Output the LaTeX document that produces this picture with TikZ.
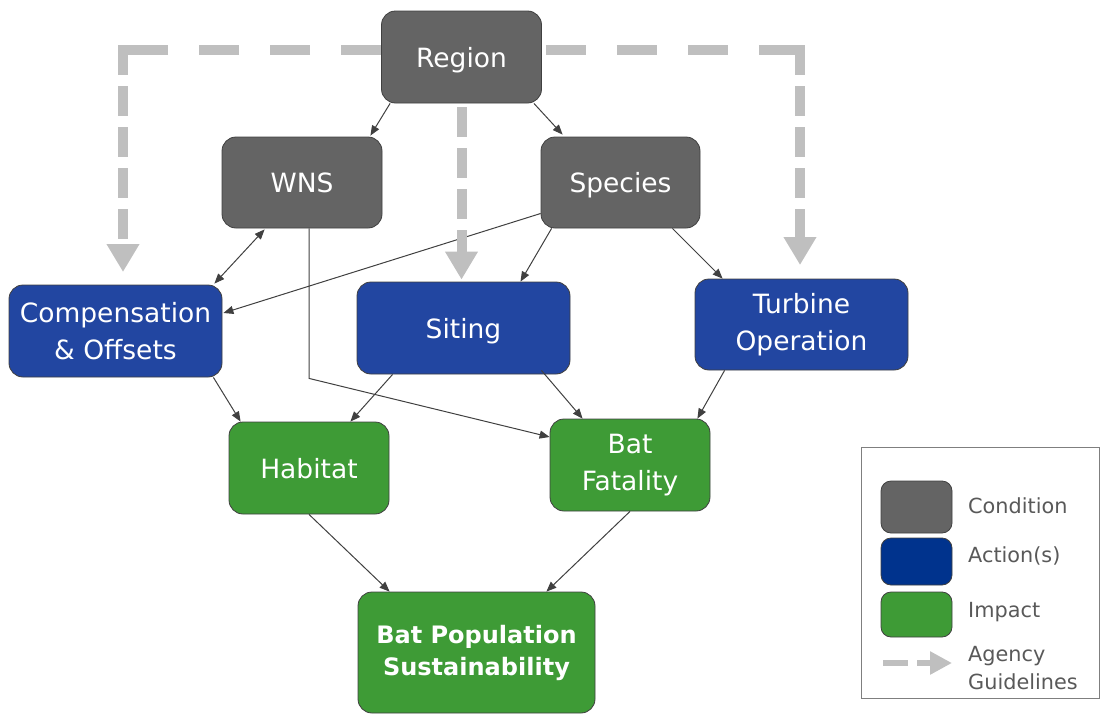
\documentclass[tikz,border=0pt]{standalone}
\usepackage{fontspec}
\setmainfont{DejaVu Sans}
\usetikzlibrary{arrows.meta,calc}
\definecolor{condc}{HTML}{646464}
\definecolor{actc}{HTML}{2246A1}
\definecolor{impc}{HTML}{3E9B36}
\definecolor{legact}{HTML}{00338D}
\definecolor{guidec}{HTML}{BFBFBF}
\definecolor{linec}{HTML}{404040}
\definecolor{legtext}{HTML}{595959}
\definecolor{legbord}{HTML}{7F7F7F}
\begin{document}
\begin{tikzpicture}[x=1pt,y=-1pt,
 box/.style={draw=linec, line width=0.8pt, rounded corners=14pt, text=white, align=center, inner sep=0pt, font=\fontsize{26.5}{37}\selectfont},
 one/.style={text depth=0pt},
 cond/.style={box, fill=condc},
 act/.style={box, fill=actc},
 imp/.style={box, fill=impc},
 conn/.style={draw=linec, line width=1pt, -{Triangle[length=10pt,width=8pt]}},
 guideh/.style={draw=guidec, line width=10pt, dash pattern=on 40pt off 31pt},
 guidev/.style={draw=guidec, line width=10pt, dash pattern=on 30pt off 11pt, -{Triangle[length=28pt,width=31pt]}},
 legbox/.style={draw=linec, line width=0.8pt, rounded corners=10pt, minimum width=71pt, inner sep=0pt},
 legtxt/.style={anchor=west, text=legtext, inner sep=0pt, align=left, font=\fontsize{20.8}{28}\selectfont},
]
\useasboundingbox (0,0) rectangle (1100,715);

% nodes
\node[cond, one, minimum width=160pt, minimum height=92pt] (region) at (461.5,57) {Region};
\node[cond, one, minimum width=160pt, minimum height=91pt] (wns) at (302,182.5) {WNS};
\node[cond, one, minimum width=159pt, minimum height=91pt] (species) at (620.5,182.5) {Species};
\node[act, minimum width=213pt, minimum height=92pt] (comp) at (115.5,331) {Compensation\\\& Offsets};
\node[act, one, minimum width=213pt, minimum height=92pt] (siting) at (463.5,328) {Siting};
\node[act, minimum width=213pt, minimum height=91pt] (turbine) at (801.5,324.5) {Turbine\\Operation};
\node[imp, one, minimum width=160pt, minimum height=92pt] (habitat) at (309,468) {Habitat};
\node[imp, minimum width=160pt, minimum height=92pt] (batfat) at (630,465) {Bat\\Fatality};
\node[imp, minimum width=237pt, minimum height=121pt, font=\fontsize{24}{32}\selectfont\bfseries] (batpop) at (476.5,652.5) {Bat Population\\Sustainability};

% thin connectors
\draw[conn] ($(region.south west)+(9,0)$) -- ($(wns.north east)+(-12,-1)$);
\draw[conn] ($(region.south east)+(-8,0)$) -- ($(species.north west)+(22,-2)$);
\draw[conn, {Triangle[length=10pt,width=8pt]}-{Triangle[length=10pt,width=8pt]}] ($(wns.south west)+(43,1)$) -- ($(comp.north east)+(-8,-1)$);
\draw[conn] ($(wns.south)+(7,0)$) -- ++(0,150) -- ($(batfat.west)+(0,-28)$);
\draw[conn] ($(species.west)+(0,31)$) -- ($(comp.east)+(1,-18)$);
\draw[conn] ($(species.south west)+(11,0)$) -- ($(siting.north)+(57,0)$);
\draw[conn] ($(species.south east)+(-28,0)$) -- ($(turbine.north west)+(28,0)$);
\draw[conn] ($(comp.south east)+(-9,0)$) -- ($(habitat.north west)+(12,0)$);
\draw[conn] ($(siting.south west)+(36,0)$) -- ($(habitat.north east)+(-39,0)$);
\draw[conn] ($(siting.south east)+(-29,-4)$) -- ($(batfat.north west)+(33,0)$);
\draw[conn] ($(turbine.south west)+(30,0)$) -- ($(batfat.north east)+(-13,0)$);
\draw[conn] (habitat.south) -- ($(batpop.north west)+(32,0)$);
\draw[conn] (batfat.south) -- ($(batpop.north east)+(-49,0)$);

% agency guideline arrows
\coordinate (cL) at (123,50);
\coordinate (cR) at (800,50);
\coordinate (gL) at (123,272);
\coordinate (gR) at (800,265);
\draw[guideh] ($(region.west)+(0,-7)$) -- ($(cL)+(5,0)$);
\draw[guidev] ($(cL)+(0,-5)$) -- (gL);
\draw[guidev] ($(region.south)+(0,4)$) -- ($(region.south |- siting.north)+(0,-2)$);
\draw[guideh] ($(region.east)+(4,-7)$) -- ($(cR)+(-5,0)$);
\draw[guidev] ($(cR)+(0,-5)$) -- (gR);

% legend
\node[draw=legbord, line width=0.8pt, minimum width=238pt, minimum height=251pt, inner sep=0pt] (legend) at (980,572.5) {};
\node[legbox, fill=condc, minimum height=52pt] (lcond) at (916.5,507) {};
\node[legbox, fill=legact, minimum height=47pt] (lact) at (916.5,561.5) {};
\node[legbox, fill=impc, minimum height=45pt] (limp) at (916.5,614.5) {};
\node[legtxt] (tcond) at (968,506) {Condition};
\node[legtxt] (tact) at (968,556) {Action(s)};
\node[legtxt] (timp) at (968,612) {Impact};
\node[legtxt] (tguide) at (968,668) {Agency\\Guidelines};
\coordinate (lgA) at (883,663);
\coordinate (lgB) at (952,663);
\draw[draw=guidec, line width=6pt, dash pattern=on 25pt off 9pt, -{Triangle[length=22pt,width=22pt]}] (lgA) -- (lgB);
\end{tikzpicture}
\end{document}
